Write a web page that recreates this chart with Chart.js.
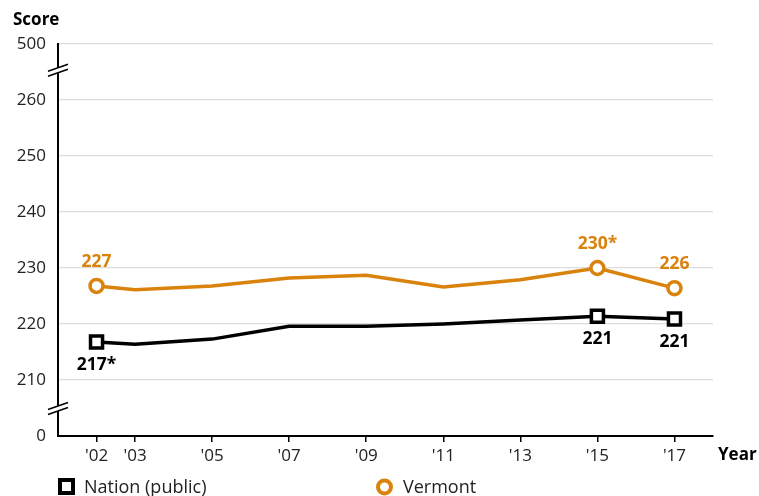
<!DOCTYPE html>
<html>
<head>
<meta charset="utf-8">
<script src="https://cdn.jsdelivr.net/npm/chart.js@4"></script>
<style>
  html, body { margin: 0; padding: 0; background: #fff; }
  #wrap { width: 759px; height: 496px; position: relative; }
</style>
</head>
<body>
<div id="wrap"><canvas id="scoreChart" width="759" height="496"></canvas></div>
<script>
  // years and scores
  const years = [2002, 2003, 2005, 2007, 2009, 2011, 2013, 2015, 2017];
  const yearLabels = ["'02", "'03", "'05", "'07", "'09", "'11", "'13", "'15", "'17"];
  const nation = [216.8, 216.4, 217.3, 219.6, 219.6, 220.0, 220.7, 221.4, 220.9];
  const vermont = [226.8, 226.1, 226.8, 228.2, 228.7, 226.6, 227.9, 230.0, 226.4];
  const nationLabels = ['217*', '', '', '', '', '', '', '221', '221'];
  const vermontLabels = ['227', '', '', '', '', '', '', '230*', '226'];
  // broken axis: plotted 200 stands for 0, 270 stands for 500
  const yTickText = { 200: '0', 270: '500' };

  const ORANGE = '#d9820c';
  const FONT = "'Open Sans', 'Noto Sans', sans-serif";
  const markerAt = [1, 0, 0, 0, 0, 0, 0, 1, 1];

  const extras = {
    id: 'extras',
    afterDatasetsDraw(chart) {
      const ctx = chart.ctx;
      ctx.save();
      ctx.font = 'bold 17.5px ' + FONT;
      ctx.textAlign = 'center';
      ctx.textBaseline = 'middle';
      chart.getDatasetMeta(1).data.forEach((pt, i) => {
        if (!vermontLabels[i]) return;
        ctx.fillStyle = ORANGE;
        ctx.fillText(vermontLabels[i], pt.x, pt.y - 24);
      });
      chart.getDatasetMeta(0).data.forEach((pt, i) => {
        if (!nationLabels[i]) return;
        ctx.fillStyle = '#000';
        ctx.fillText(nationLabels[i], pt.x, pt.y + 23);
      });
      ctx.restore();
    },
    afterDraw(chart) {
      const ctx = chart.ctx;
      const area = chart.chartArea;
      const ys = chart.scales.y;
      ctx.save();
      // axis break marks
      [ys.getPixelForValue(265.3), ys.getPixelForValue(204.9)].forEach(y => {
        const x = area.left;
        ctx.fillStyle = '#fff';
        ctx.beginPath();
        ctx.moveTo(x - 10, y + 1);
        ctx.lineTo(x + 10, y - 6);
        ctx.lineTo(x + 10, y - 1);
        ctx.lineTo(x - 10, y + 6);
        ctx.closePath();
        ctx.fill();
        ctx.strokeStyle = '#000';
        ctx.lineWidth = 1.5;
        ctx.beginPath();
        ctx.moveTo(x - 10, y + 1); ctx.lineTo(x + 10, y - 6);
        ctx.moveTo(x - 10, y + 6); ctx.lineTo(x + 10, y - 1);
        ctx.stroke();
      });
      // titles
      ctx.fillStyle = '#000';
      ctx.font = 'bold 17px ' + FONT;
      ctx.textBaseline = 'middle';
      ctx.textAlign = 'left';
      ctx.fillText('Score', 13, 20);
      ctx.fillText('Year', 718, 455);
      // legend
      ctx.font = '18px ' + FONT;
      ctx.fillStyle = '#fff';
      ctx.strokeStyle = '#000';
      ctx.lineWidth = 4;
      ctx.fillRect(60, 480, 13, 13);
      ctx.strokeRect(60, 480, 13, 13);
      ctx.fillStyle = '#222';
      ctx.fillText('Nation (public)', 84, 488);
      ctx.strokeStyle = ORANGE;
      ctx.beginPath();
      ctx.arc(384.5, 487, 6.5, 0, Math.PI * 2);
      ctx.stroke();
      ctx.fillStyle = '#222';
      ctx.fillText('Vermont', 403, 488);
      ctx.restore();
    }
  };

  const ctx = document.getElementById('scoreChart').getContext('2d');
  const myChart = new Chart(ctx, {
    type: 'line',
    data: {
      datasets: [
        {
          label: 'Nation (public)',
          data: years.map((y, i) => ({ x: y, y: nation[i] })),
          borderColor: '#000',
          borderWidth: 3.5,
          pointStyle: 'rect',
          pointRadius: markerAt.map(m => m ? 8.5 : 0),
          pointBackgroundColor: '#fff',
          pointBorderColor: '#000',
          pointBorderWidth: 3.5,
          tension: 0
        },
        {
          label: 'Vermont',
          data: years.map((y, i) => ({ x: y, y: vermont[i] })),
          borderColor: ORANGE,
          borderWidth: 3.5,
          pointStyle: 'circle',
          pointRadius: markerAt.map(m => m ? 6.5 : 0),
          pointBackgroundColor: '#fff',
          pointBorderColor: ORANGE,
          pointBorderWidth: 3.5,
          tension: 0
        }
      ]
    },
    options: {
      responsive: false,
      animation: false,
      events: [],
      layout: { padding: { top: 44, right: 46, left: 0, bottom: 0 } },
      plugins: { legend: { display: false }, tooltip: { enabled: false } },
      scales: {
        x: {
          type: 'linear',
          min: 2001,
          max: 2018,
          afterBuildTicks: s => { s.ticks = years.map(v => ({ value: v })); },
          afterFit: s => { s.height = 60; },
          border: { color: '#000', width: 2 },
          grid: { drawOnChartArea: false, drawTicks: true, tickLength: 6, color: '#000', lineWidth: 1.5 },
          ticks: {
            padding: 4,
            color: '#222',
            font: { family: FONT, size: 17 },
            maxRotation: 0,
            callback: v => yearLabels[years.indexOf(v)]
          }
        },
        y: {
          min: 200,
          max: 270,
          afterFit: s => { s.width = 58; },
          border: { color: '#000', width: 2 },
          grid: {
            drawTicks: false,
            color: c => (c.tick.value === 200 ? 'rgba(0,0,0,0)' : '#dddddd'),
            lineWidth: 1.2
          },
          ticks: {
            stepSize: 10,
            padding: 12,
            color: '#222',
            font: { family: FONT, size: 17 },
            callback: v => (v in yTickText ? yTickText[v] : String(v))
          }
        }
      }
    },
    plugins: [extras]
  });
</script>
</body>
</html>
